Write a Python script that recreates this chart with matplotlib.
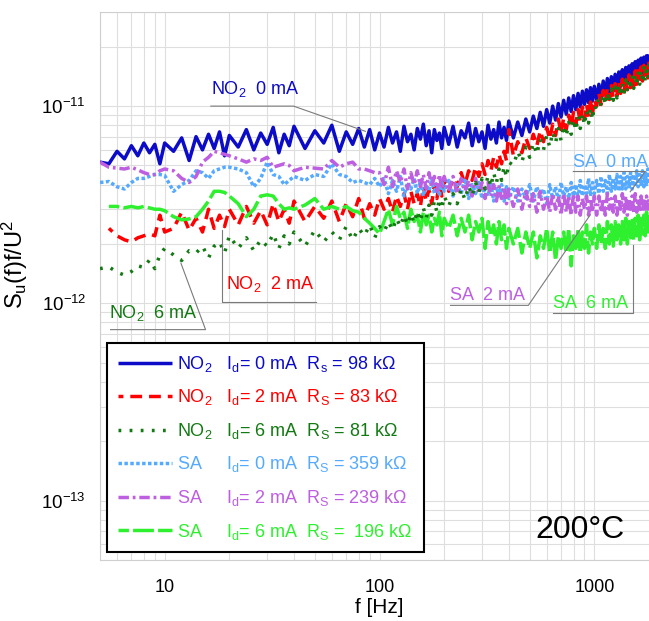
import numpy as np
import matplotlib
matplotlib.use("Agg")
import matplotlib.pyplot as plt
from matplotlib.ticker import LogLocator, NullFormatter, FixedLocator, FixedFormatter

plt.rcParams['font.family'] = ['Liberation Sans', 'DejaVu Sans']
plt.rcParams['mathtext.fontset'] = 'custom'
plt.rcParams['mathtext.rm'] = 'Liberation Sans'
plt.rcParams['mathtext.it'] = 'Liberation Sans'
plt.rcParams['mathtext.default'] = 'regular'

# frequency points [Hz]
freq = [5, 5.5, 6, 6.5, 7, 7.5, 8, 8.5, 9, 9.5, 10,
        11, 12, 13, 14, 15, 16, 17, 18, 19, 20,
        22, 24, 26, 28, 30, 32, 34, 36, 38, 40,
        45, 50, 55, 60, 65, 70, 75, 80, 85, 90, 95, 100,
        105, 110, 115, 120, 125, 130, 135, 140, 145, 150,
        155, 160, 165, 170, 175, 180, 185, 190, 195, 200,
        210, 220, 230, 240, 250, 260, 270, 280, 290, 300,
        310, 320, 330, 340, 350, 360, 370, 380, 390, 400,
        420, 440, 460, 480, 500, 520, 540, 560, 580, 600,
        620, 640, 660, 680, 700, 720, 740, 760, 780, 800,
        820, 840, 860, 880, 900, 920, 940, 960, 980, 1000,
        1025, 1050, 1075, 1100, 1125, 1150, 1175, 1200,
        1225, 1250, 1275, 1300, 1325, 1350, 1375, 1400,
        1425, 1450, 1475, 1500, 1525, 1550, 1575, 1600,
        1625, 1650, 1675, 1700, 1725, 1750, 1775, 1800]

nan = np.nan
# S_u(f)f/U^2 in units of 1e-12
no2_0 = [5.2, 5.1, 5.9, 5.4, 6.3, 5.6, 6.5, 5.8, 6.4, 5.1, 6.5,
         5.9, 6.9, 5.3, 7.0, 6.0, 7.2, 6.1, 7.4, 5.6, 7.1,
         6.2, 7.6, 6.0, 7.3, 6.4, 7.8, 5.8, 7.2, 6.3, 7.9,
         6.1, 7.5, 6.5, 8.0, 5.9, 7.4, 6.4, 7.7, 6.2, 7.6, 6.0, 7.3,
         6.2, 7.8, 6.5, 7.4, 5.9, 7.9, 6.6, 7.2, 6.0, 7.7,
         6.8, 8.1, 6.3, 7.5, 5.8, 7.6, 6.7, 7.3, 6.1, 7.8,
         6.4, 7.9, 6.2, 7.5, 6.9, 8.2, 6.3, 7.7, 6.6, 7.4,
         6.1, 8.0, 6.8, 7.6, 6.5, 8.3, 6.9, 7.8, 6.7, 8.4,
         6.9, 8.3, 7.1, 8.6, 7.4, 8.9, 7.7, 9.3, 7.9, 9.6,
         8.2, 10.0, 8.5, 10.3, 8.8, 10.7, 9.1, 11.0, 9.4, 11.3,
         9.6, 11.6, 9.9, 11.9, 10.2, 12.1, 10.4, 12.4, 10.6, 12.6,
         10.8, 12.9, 11.0, 13.4, 11.4, 13.8, 11.7, 14.1,
         12.0, 14.5, 12.3, 14.9, 12.6, 15.3, 13.0, 15.7,
         13.3, 16.0, 13.6, 16.4, 13.9, 16.8, 14.2, 17.1,
         14.5, 17.5, 14.7, 17.7, 14.9, 18.0, 15.1, 18.3]
no2_2 = [nan, 2.4, 2.2, 2.1, 2.05, 2.15, 2.2, 2.25, 2.2, 2.8, 2.3,
         2.4, 2.9, 2.35, 2.7, 2.3, 3.0, 2.4, 2.8, 2.45, 3.0,
         2.5, 3.1, 2.55, 2.95, 2.5, 3.2, 2.6, 3.0, 2.55, 3.3,
         2.6, 3.1, 2.7, 3.3, 2.6, 3.2, 2.75, 3.4, 2.7, 3.2, 2.8, 3.4,
         3.0, 3.4, 2.9, 3.5, 3.1, 3.6, 3.0, 3.7, 3.2, 3.6,
         3.1, 3.9, 3.3, 3.8, 3.2, 4.0, 3.4, 4.1, 3.5, 4.2,
         3.7, 4.3, 3.9, 4.6, 4.0, 4.7, 4.2, 4.9, 4.4, 5.1,
         4.5, 5.3, 4.7, 5.5, 4.9, 5.7, 5.1, 5.9, 5.3, 7.6,
         5.6, 6.6, 5.8, 6.9, 6.1, 7.2, 6.3, 7.5, 6.6, 7.8,
         6.8, 8.1, 7.1, 8.6, 7.3, 8.7, 7.6, 9.0, 7.8, 9.3,
         8.1, 9.6, 8.3, 9.9, 8.6, 10.2, 8.8, 10.5, 9.1, 10.8,
         10.0, 11.6, 10.2, 12.0, 10.5, 12.3, 10.8, 12.7,
         11.0, 13.0, 11.3, 13.4, 11.6, 13.7, 11.8, 14.1,
         12.1, 14.4, 12.4, 14.8, 12.6, 15.1, 12.9, 15.5,
         13.2, 15.8, 13.4, 16.1, 13.7, 16.5, 13.9, 16.8]
no2_6 = [1.5, 1.53, 1.44, 1.39, 1.45, 1.55, 1.52, 1.66, 1.5, 1.76, 1.9,
         1.76, 1.65, 1.85, 1.8, 1.95, 1.7, 1.95, 2.05, 1.8, 2.2,
         1.9, 2.15, 1.85, 2.1, 1.95, 2.25, 1.9, 2.2, 2.0, 2.3,
         1.95, 2.35, 2.05, 2.3, 2.1, 2.45, 2.1, 2.4, 2.2, 2.5, 2.15, 2.45,
         2.3, 2.6, 2.35, 2.7, 2.45, 2.8, 2.5, 2.85, 2.55, 2.95,
         2.6, 3.05, 2.7, 3.15, 2.8, 3.3, 2.9, 3.4, 3.0, 3.5,
         3.1, 3.6, 3.2, 3.8, 3.35, 3.95, 3.5, 4.1, 3.65, 4.3,
         3.8, 4.45, 3.9, 4.6, 4.05, 4.8, 4.2, 4.95, 4.35, 5.2,
         5.0, 5.9, 5.2, 6.2, 5.5, 6.5, 5.7, 6.8, 6.0, 7.1,
         6.2, 7.4, 6.5, 7.7, 6.7, 8.0, 7.0, 8.3, 7.2, 8.6,
         7.5, 8.9, 7.7, 9.2, 8.0, 9.5, 8.2, 9.8, 8.5, 10.1,
         9.6, 11.1, 9.9, 11.5, 10.1, 11.8, 10.4, 12.2,
         10.7, 12.5, 11.0, 12.9, 11.2, 13.2, 11.5, 13.6,
         11.8, 13.9, 12.1, 14.3, 12.3, 14.6, 12.6, 15.0,
         12.9, 15.3, 13.1, 15.7, 13.4, 16.0, 13.7, 16.4]
sa_0 = [4.1, 4.15, 3.9, 3.8, 4.1, 4.3, 4.3, 4.4, 4.5, 4.5, 4.45,
        3.7, 4.0, 4.2, 4.7, 4.6, 4.3, 4.7, 4.8, 4.9, 4.9,
        4.8, 4.6, 3.9, 4.3, 5.2, 4.5, 4.4, 4.0, 4.2, 4.4,
        4.2, 4.5, 4.4, 5.1, 4.5, 4.4, 4.1, 4.2, 4.1, 4.0, 4.3, 3.9,
        4.3, 3.6, 4.2, 3.7, 4.4, 3.5, 4.1, 3.8, 4.3, 3.6,
        4.2, 3.5, 4.0, 3.7, 4.3, 3.6, 4.1, 3.5, 4.2, 3.7,
        4.2, 3.5, 4.0, 3.6, 4.3, 3.4, 4.0, 3.6, 4.1, 3.4,
        3.9, 3.5, 4.1, 3.3, 3.9, 3.5, 4.0, 3.3, 3.9, 3.4,
        3.9, 3.3, 3.8, 3.4, 4.0, 3.3, 3.9, 3.4, 3.8, 3.2,
        4.0, 3.4, 3.9, 3.3, 4.1, 3.5, 3.9, 3.4, 4.1, 3.5,
        4.0, 3.4, 4.2, 3.5, 4.0, 3.6, 4.3, 3.5, 4.1, 3.6,
        4.2, 3.6, 4.4, 3.7, 4.2, 3.6, 4.5, 3.7,
        4.3, 3.8, 4.5, 3.7, 4.4, 3.8, 4.6, 3.8,
        4.4, 3.9, 4.6, 3.8, 4.5, 3.9, 4.7, 3.9,
        4.5, 4.0, 4.7, 3.9, 4.6, 4.0, 4.8, 4.0]
sa_2 = [5.2, 4.9, 4.85, 4.8, 4.9, 4.75, 4.6, 4.5, 4.5, 4.7, 4.8,
        4.7, 4.3, 4.1, 4.4, 5.2, 5.5, 5.9, 5.8, 5.7, 5.6,
        5.4, 5.2, 5.4, 5.3, 5.5, 4.9, 5.0, 5.1, 5.0, 4.7,
        4.9, 4.85, 4.8, 5.3, 4.9, 5.1, 5.2, 4.8, 4.8, 4.7, 4.6, 4.6,
        4.0, 4.9, 3.9, 4.7, 4.1, 4.8, 3.8, 4.6, 4.0, 4.7,
        3.9, 4.5, 3.8, 4.6, 3.9, 4.4, 3.7, 4.5, 3.8, 4.4,
        3.7, 4.4, 3.6, 4.3, 3.7, 4.2, 3.5, 4.3, 3.6, 4.1,
        3.4, 4.1, 3.5, 4.0, 3.3, 3.9, 3.4, 3.9, 3.2, 3.8,
        3.1, 3.8, 3.0, 3.7, 3.1, 3.6, 2.9, 3.7, 3.0, 3.5,
        2.9, 3.6, 3.0, 3.5, 2.8, 3.6, 2.9, 3.5, 2.8, 3.6,
        2.9, 3.5, 2.8, 3.4, 3.0, 3.5, 2.8, 3.4, 2.9, 3.5,
        2.8, 3.5, 2.9, 3.4, 2.8, 3.6, 3.0, 3.4,
        2.9, 3.5, 2.8, 3.4, 3.0, 3.6, 2.9, 3.5,
        2.8, 3.4, 3.0, 3.5, 2.9, 3.6, 2.9, 3.4,
        3.0, 3.5, 2.9, 3.4, 3.0, 3.5, 3.0, 3.4]
sa_6 = [nan, 3.1, 3.1, 3.05, 3.1, 3.05, 3.1, 3.05, 3.0, 3.0, 2.95,
        2.75, 2.65, 2.68, 2.75, 3.0, 3.3, 3.7, 3.7, 3.65, 3.5,
        3.2, 2.75, 3.0, 3.5, 3.55, 3.5, 3.2, 3.0, 3.05, 3.0,
        3.15, 3.4, 3.0, 3.1, 3.0, 3.1, 2.95, 2.9, 2.7, 2.55, 2.4, 2.25,
        2.6, 3.0, 2.5, 3.1, 2.7, 2.9, 2.4, 3.0, 2.6, 2.8,
        2.3, 2.9, 2.5, 2.8, 2.3, 2.7, 2.5, 2.9, 2.2, 2.7,
        2.4, 2.8, 2.2, 2.7, 2.3, 2.8, 2.1, 2.6, 2.3, 2.7,
        1.9, 2.6, 2.2, 2.5, 2.0, 2.6, 2.1, 2.5, 1.9, 2.4,
        2.0, 2.4, 1.8, 2.3, 1.9, 2.3, 1.7, 2.2, 1.9, 2.4,
        1.8, 2.3, 1.65, 2.2, 1.9, 2.3, 1.8, 2.4, 1.55, 2.2,
        1.9, 2.4, 1.8, 2.3, 1.9, 2.5, 1.8, 2.3, 2.0, 2.4,
        1.9, 2.5, 2.0, 2.4, 1.9, 2.6, 2.0, 2.5,
        1.95, 2.6, 2.1, 2.5, 2.0, 2.6, 2.1, 2.7,
        2.0, 2.6, 2.15, 2.7, 2.1, 2.7, 2.2, 2.8,
        2.1, 2.7, 2.25, 2.8, 2.2, 2.9, 2.3, 2.8]

labels = ["NO$_2$   I$_d$= 0 mA  R$_s$ = 98 kΩ",
          "NO$_2$   I$_d$= 2 mA  R$_S$ = 83 kΩ",
          "NO$_2$   I$_d$= 6 mA  R$_S$ = 81 kΩ",
          "SA     I$_d$= 0 mA  R$_S$ = 359 kΩ",
          "SA     I$_d$= 2 mA  R$_S$ = 239 kΩ",
          "SA     I$_d$= 6 mA  R$_S$ =  196 kΩ"]
colors = ['#0b0bc8', '#ff0000', '#137a13', '#55aaff', '#bd5fe0', '#2ef02e']

fig = plt.figure(figsize=(6.49, 6.21), dpi=100)
ax = fig.add_axes([100 / 649, 61 / 621, 559 / 649, 548 / 621])

f = np.array(freq)
series = [no2_0, no2_2, no2_6, sa_0, sa_2, sa_6]
styles = [(0, ()), (2, (3.4, 2.0)), (0, (0.8, 2.4)), (0, (1.0, 0.7)),
          (0, (3.0, 1.1, 0.8, 1.1)), (3, (6.0, 1.2))]
order = [0, 1, 3, 4, 5, 2]  # drawing order
handles = [None] * 6
for i in order:
    ln, = ax.plot(f, np.array(series[i]) * 1e-12, color=colors[i], lw=2.5,
                  linestyle=styles[i], label=labels[i], zorder=3 + order.index(i))
    handles[i] = ln

ax.set_xscale('log')
ax.set_yscale('log')
ax.set_xlim(5, 2000)
ax.set_ylim(5e-14, 3e-11)

ax.xaxis.set_major_locator(FixedLocator([10, 100, 1000]))
ax.xaxis.set_major_formatter(FixedFormatter(['10', '100', '1000']))
ax.xaxis.set_minor_locator(LogLocator(base=10, subs=np.arange(2, 10)))
ax.xaxis.set_minor_formatter(NullFormatter())
ax.yaxis.set_major_locator(FixedLocator([1e-13, 1e-12, 1e-11]))
ax.yaxis.set_major_formatter(FixedFormatter(['10$^{-13}$', '10$^{-12}$', '10$^{-11}$']))
ax.yaxis.set_minor_locator(LogLocator(base=10, subs=np.arange(2, 10)))
ax.yaxis.set_minor_formatter(NullFormatter())

ax.grid(True, which='both', color='#dedede', lw=0.8)
ax.set_axisbelow(True)
ax.tick_params(which='both', length=0)
ax.tick_params(axis='x', labelsize=13, pad=14)
ax.tick_params(axis='y', labelsize=13.5, pad=10)
for s in ax.spines.values():
    s.set_color('#cfcfcf')

ax.set_xlabel('f [Hz]', fontsize=15, labelpad=1)
ax.set_ylabel('S$_u$(f)f/U$^2$', fontsize=17)
ax.yaxis.set_label_coords(-0.125, 0.54)

# labels with leader lines
notes = [("NO$_2$  0 mA", 16.4, 1.15e-11, [(16.4, 1e-11), (39.8, 1e-11), (86, 7.45e-12)]),
         ("NO$_2$  2 mA", 19.2, 1.18e-12, [(50.9, 1.02e-12), (18.4, 1.02e-12), (18.4, 2.35e-12)]),
         ("NO$_2$  6 mA", 5.5, 8.4e-13, [(5.6, 7.36e-13), (15.5, 7.36e-13), (11.9, 1.6e-12)]),
         ("SA  0 mA", 798, 4.94e-12, [(798, 4.66e-12), (1726, 4.66e-12), (1469, 3.68e-12)]),
         ("SA  2 mA", 214, 1.035e-12, [(214, 9.77e-13), (493, 9.77e-13), (957, 2.81e-12)]),
         ("SA  6 mA", 644, 9.42e-13, [(644, 8.89e-13), (1517, 8.89e-13), (1517, 1.98e-12)])]
for k, (txt, tx, ty, pts) in enumerate(notes):
    ax.text(tx, ty, txt, color=colors[k], fontsize=13, va='baseline', zorder=10)
    ax.plot([p[0] for p in pts], [p[1] for p in pts], color='#7a7a7a', lw=0.8, zorder=9)

ax.text(0.778, 0.04, '200°C', transform=ax.transAxes, fontsize=23, color='black')

leg = ax.legend(handles=handles, loc='upper left', bbox_to_anchor=(0.0125, 0.396),
                borderaxespad=0, fontsize=13, handlelength=3, handletextpad=0.3,
                labelspacing=0.75, fancybox=False, framealpha=1, borderpad=0.6)
leg.get_frame().set_edgecolor('black')
leg.get_frame().set_linewidth(1.5)
for t, c in zip(leg.get_texts(), colors):
    t.set_color(c)
leg.set_zorder(20)

fig.savefig('out.png', dpi=100)
